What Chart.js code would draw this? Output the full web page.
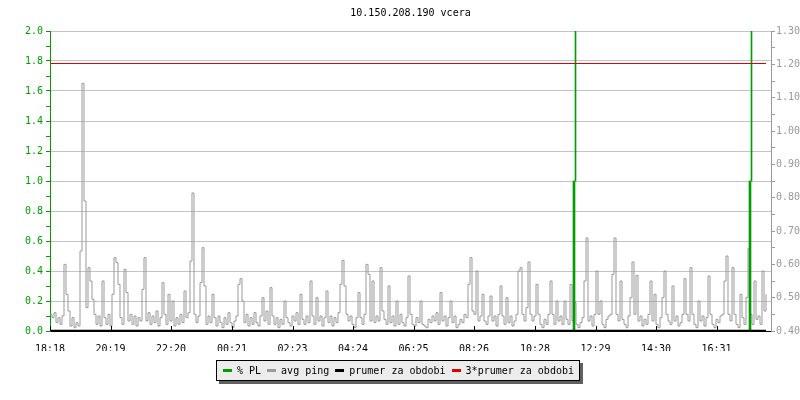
<!DOCTYPE html>
<html>
<head>
<meta charset="utf-8">
<script src="https://cdn.jsdelivr.net/npm/chart.js@4.4.1/dist/chart.umd.min.js"></script>
<style>
	body { margin: 0; background: #fff; }
	#wrap { position: relative; width: 800px; height: 400px; }
	#legend {
		position: absolute; left: 216px; top: 360px; width: 364px; height: 21px;
		box-sizing: border-box; border: 1px solid #000; background: #ececec;
		box-shadow: 3px 3px 0 #606060; display: flex; align-items: center;
		padding-left: 6px; font: 10px "DejaVu Sans Mono", monospace; color: #000;
	}
	.item { display: flex; align-items: center; margin-right: 6px; white-space: pre; }
	.swatch { width: 9px; height: 3px; margin-right: 5px; }
</style>
</head>
<body>
<div id="wrap">
	<canvas id="chart" width="800" height="400"></canvas>
	<div id="legend">
		<div class="item"><span class="swatch" style="background:#009f00"></span>% PL</div>
		<div class="item"><span class="swatch" style="background:#999"></span>avg ping</div>
		<div class="item"><span class="swatch" style="background:#000"></span>prumer za obdobi</div>
		<div class="item"><span class="swatch" style="background:#e00000"></span>3*prumer za obdobi</div>
	</div>
</div>
<script>
const chartTitle = '10.150.208.190 vcera';

// x axis: minutes since 18:18
const tickMinutes = [0, 121, 242, 364, 485, 606, 727, 848, 970, 1091, 1212, 1333];
const tickLabels = ['18:18', '20:19', '22:20', '00:21', '02:23', '04:24', '06:25', '08:26', '10:28', '12:29', '14:30', '16:31'];
const sampleMinutes = 4;

// avg ping (ms), one value per sample
const pingMs = [
	.45, .44, .455, .425, .44, .42, .445, .60, .51, .46, .415, .44, .41, .425, .415, .64, 1.143, .79, .47, .59,
	.55, .495, .45, .42, .445, .415, .55, .44, .42, .45, .415, .51, .62, .605, .54, .44, .42, .585, .515, .43,
	.45, .42, .445, .415, .44, .43, .525, .62, .43, .455, .42, .445, .425, .46, .415, .44, .545, .45, .42, .51,
	.43, .49, .415, .44, .42, .45, .425, .52, .44, .455, .61, .814, .45, .425, .445, .545, .65, .535, .42, .445,
	.425, .51, .44, .415, .445, .425, .41, .44, .42, .455, .425, .41, .43, .445, .54, .557, .49, .425, .45, .415,
	.44, .42, .455, .425, .415, .445, .50, .43, .46, .42, .53, .445, .42, .44, .41, .435, .42, .49, .44, .425,
	.415, .445, .43, .455, .42, .51, .435, .42, .445, .425, .55, .445, .42, .50, .43, .445, .415, .44, .52, .425,
	.445, .415, .44, .425, .455, .54, .612, .535, .45, .43, .445, .42, .41, .44, .515, .44, .42, .45, .60, .57,
	.43, .55, .425, .445, .43, .59, .46, .435, .42, .535, .425, .445, .415, .49, .42, .45, .425, .415, .44, .565,
	.45, .42, .415, .44, .425, .49, .42, .415, .41, .435, .425, .445, .43, .455, .42, .515, .43, .445, .415, .44,
	.49, .425, .445, .41, .42, .435, .425, .45, .44, .54, .62, .46, .45, .58, .43, .445, .51, .43, .42, .445,
	.505, .43, .445, .415, .45, .535, .445, .42, .50, .425, .445, .415, .43, .45, .58, .59, .45, .43, .47, .607,
	.45, .43, .445, .54, .45, .42, .41, .435, .42, .45, .55, .45, .42, .49, .43, .445, .42, .49, .435, .42,
	.54, .43, .485, .42, .41, .425, .44, .55, .679, .43, .445, .415, .45, .58, .45, .49, .42, .41, .435, .445,
	.45, .57, .679, .45, .43, .55, .435, .42, .41, .445, .50, .607, .45, .567, .43, .445, .415, .435, .42, .45,
	.55, .43, .51, .42, .41, .44, .50, .58, .45, .43, .42, .535, .43, .445, .415, .425, .45, .557, .45, .43,
	.59, .45, .42, .41, .49, .43, .445, .415, .44, .565, .45, .42, .41, .435, .425, .445, .45, .55, .625, .45,
	.43, .59, .45, .42, .41, .51, .44, .42, .50, .648, .45, .42, .55, .435, .445, .42, .58, .46, .51
];

// packet loss events
const plMinutes = [1050, 1402];
const plPercent = [1, 1];
const plTop = 2;

// period average and 3x average (ms)
const periodAvg = 0.4008;
const periodAvg3 = 1.2025;

const green = '#009f00';
const gray = '#999999';

const ctx = document.getElementById('chart');
const lastMinute = (pingMs.length - 1) * sampleMinutes;

const pingPoints = pingMs.map((v, i) => ({x: i * sampleMinutes, y: v}));
const plBars = plMinutes.map((m, i) => ({x: m, y: [0, plPercent[i]]}));
const plMarks = plMinutes.map((m, i) => ({x: m, y: [plPercent[i], plTop]}));

const monoFont = {family: '"DejaVu Sans Mono", monospace', size: 10};

// title centred over the plot, and short x tick marks pointing up into it
const extras = {
	id: 'extras',
	afterDraw (chart) {
		const c = chart.ctx;
		const area = chart.chartArea;
		c.save();
		c.fillStyle = '#000';
		c.font = '10px "DejaVu Sans Mono", monospace';
		c.textAlign = 'center';
		c.textBaseline = 'middle';
		c.fillText(chartTitle, (area.left + area.right) / 2, 13);

		const xs = chart.scales.x;
		c.strokeStyle = '#000';
		c.lineWidth = 1;
		xs.ticks.forEach(t => {
			const px = Math.round(xs.getPixelForValue(t.value)) + 0.5;
			c.beginPath();
			c.moveTo(px, area.bottom);
			c.lineTo(px, area.bottom - 5);
			c.stroke();
		});
		c.restore();
	}
};

new Chart(ctx, {
	type: 'line',
	data: {
		datasets: [
			{
				label: 'avg ping', data: pingPoints, yAxisID: 'y2',
				borderColor: gray, borderWidth: 1, stepped: true, pointRadius: 0, order: 4
			},
			{
				label: 'prumer za obdobi', yAxisID: 'y2',
				data: [{x: 0, y: periodAvg}, {x: lastMinute, y: periodAvg}],
				borderColor: '#000', borderWidth: 2, pointRadius: 0, order: 2
			},
			{
				label: '3*prumer za obdobi', yAxisID: 'y2',
				data: [{x: 0, y: periodAvg3}, {x: lastMinute, y: periodAvg3}],
				borderColor: '#e00000', borderWidth: 1, pointRadius: 0, order: 1
			},
			{
				type: 'bar', label: '% PL', data: plBars, yAxisID: 'y',
				backgroundColor: green, borderWidth: 0, barThickness: 2, order: 3
			},
			{
				type: 'bar', label: 'pl mark', data: plMarks, yAxisID: 'y',
				backgroundColor: green, borderWidth: 0, barThickness: 1, order: 3
			}
		]
	},
	options: {
		responsive: false,
		animation: false,
		layout: {padding: {top: 31, bottom: 49, left: 0, right: 0}},
		plugins: {
			legend: {display: false},
			title: {display: false},
			tooltip: {enabled: false}
		},
		scales: {
			x: {
				type: 'linear', min: 0, max: 1442, offset: false,
				afterBuildTicks: axis => { axis.ticks = tickMinutes.map(v => ({value: v})); },
				afterFit: axis => { axis.height = 20; },
				grid: {display: false, offset: false},
				border: {color: '#000', width: 1},
				ticks: {
					autoSkip: false, maxRotation: 0, padding: 4, color: '#000', font: monoFont,
					callback: (value, index) => tickLabels[index]
				}
			},
			y: {
				position: 'left', min: 0, max: 2,
				afterFit: axis => { axis.width = 50; },
				border: {color: green, width: 1},
				grid: {
					color: c => (Math.round(c.tick.value * 10) % 2 === 0 ? '#c4c4c4' : 'rgba(0,0,0,0)'),
					tickColor: green, tickLength: 4, lineWidth: 1
				},
				ticks: {
					stepSize: 0.1, padding: 3, color: green, font: monoFont,
					callback: v => (Math.round(v * 10) % 2 === 0 ? v.toFixed(1) : '')
				}
			},
			y2: {
				position: 'right', min: 0.4, max: 1.3,
				afterFit: axis => { axis.width = 29; },
				border: {color: gray, width: 1},
				grid: {drawOnChartArea: false, tickColor: gray, tickLength: 4},
				ticks: {
					stepSize: 0.05, padding: 1, color: gray, font: monoFont,
					callback: v => (Math.round(v * 100) % 10 === 0 ? v.toFixed(2) : '')
				}
			}
		}
	},
	plugins: [extras]
});
</script>
</body>
</html>
